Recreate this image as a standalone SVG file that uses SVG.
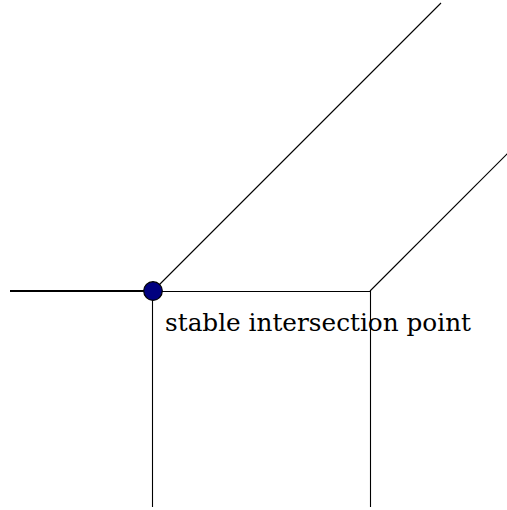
<svg xmlns="http://www.w3.org/2000/svg" width="507" height="510" viewBox="0 0 507 510">
<style>
.thin{stroke:#000;stroke-width:1.1;fill:none}
.thick{stroke:#000;stroke-width:2;fill:none}
</style>
<rect width="507" height="510" fill="#fff"/>
<g id="connectors">
<line class="thick" x1="10" y1="291" x2="153" y2="291"/>
<line class="thin" x1="153" y1="291" x2="441" y2="3"/>
<line class="thin" x1="153" y1="291.5" x2="370" y2="291.5"/>
<line class="thin" x1="152.5" y1="291" x2="152.5" y2="507"/>
<line class="thin" x1="370.5" y1="291" x2="370.5" y2="507"/>
<line class="thin" x1="370" y1="291" x2="508" y2="153"/>
</g>
<g id="point">
<circle cx="153" cy="291" r="9.3" fill="#00007f" stroke="#000" stroke-width="1.2"/>
</g>
<g id="label">
<text x="165" y="331" font-family="'DejaVu Serif', 'Liberation Serif', serif" font-size="25" fill="#000" textLength="306" lengthAdjust="spacingAndGlyphs">stable intersection point</text>
</g>
</svg>
